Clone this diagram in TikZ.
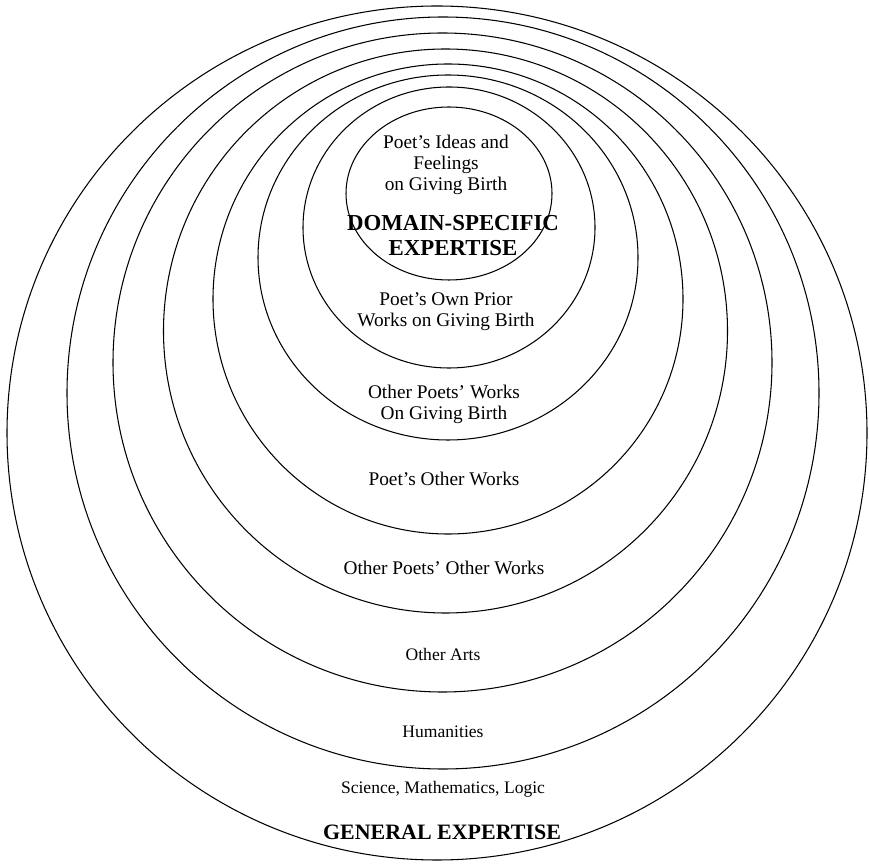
\documentclass[tikz,border=0pt]{standalone}
\usepackage{fontspec}
\setmainfont{Liberation Serif}
\usepackage{tikz}

\begin{document}
\begin{tikzpicture}[
    ring/.style={draw=black, line width=0.6pt},
    lbl/.style={align=center, font=\fontsize{11}{12}\selectfont},
    small lbl/.style={align=center, font=\fontsize{10}{12}\selectfont},
    big lbl/.style={align=center, font=\fontsize{13}{14.2}\selectfont\bfseries}
]
    \useasboundingbox (0,0) rectangle (17.38,17.26);

    \draw[ring] (8.74,8.60) ellipse (8.60 and 8.54);
    \draw[ring] (8.86,9.40) circle (7.52);
    \draw[ring] (8.85,10.01) circle (6.59);
    \draw[ring] (8.91,10.64) circle (5.64);
    \draw[ring] (8.96,11.28) circle (4.70);
    \draw[ring] (8.96,12.11) ellipse (3.80 and 3.65);
    \draw[ring] (8.98,12.71) ellipse (2.92 and 2.81);
    \draw[ring] (8.98,13.39) ellipse (2.06 and 1.73);

    \node(ideas)[lbl] at (8.92,13.96) {Poet's Ideas and\\Feelings\\on Giving Birth};
    \node(domain)[big lbl] at (9.06,12.55) {DOMAIN-SPECIFIC\\EXPERTISE};
    \node(ownprior)[lbl] at (8.92,11.02) {Poet's Own Prior\\Works on Giving Birth};
    \node(otherbirth)[lbl] at (8.88,9.18) {Other Poets' Works\\On Giving Birth};
    \node(ownother)[lbl] at (8.88,7.68) {Poet's Other Works};
    \node(otherother)[lbl] at (8.88,5.90) {Other Poets' Other Works};
    \node(arts)[small lbl] at (8.86,4.18) {Other Arts};
    \node(human)[small lbl] at (8.86,2.62) {Humanities};
    \node(science)[small lbl] at (8.86,1.48) {Science, Mathematics, Logic};
    \node(general)[big lbl, font=\fontsize{12.5}{14}\selectfont\bfseries] at (8.84,0.62) {GENERAL EXPERTISE};
\end{tikzpicture}
\end{document}
